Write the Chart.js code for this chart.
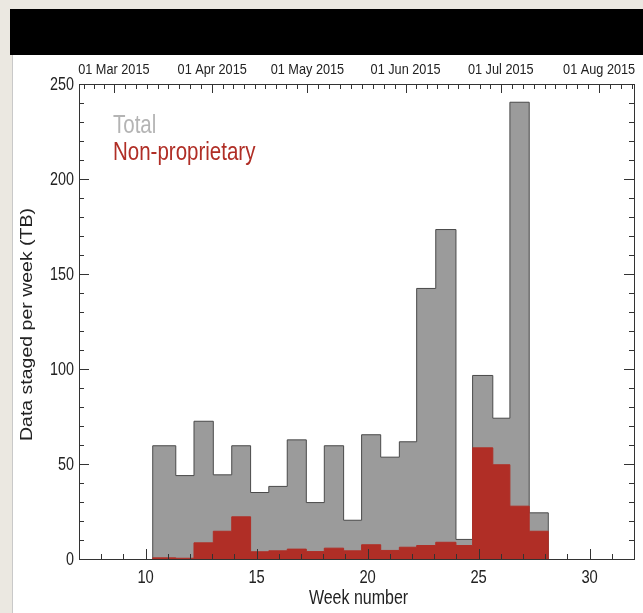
<!DOCTYPE html>
<html>
<head>
<meta charset="utf-8">
<script src="https://cdn.jsdelivr.net/npm/chart.js@4.4.0/dist/chart.umd.min.js"></script>
<style>
  html, body { margin: 0; padding: 0; }
  body { width: 643px; height: 613px; background: #ebe8e1; position: relative; overflow: hidden; }
  #topBar { position: absolute; left: 10px; top: 9px; width: 633px; height: 46px; background: #000; }
  #panel { position: absolute; left: 12px; top: 55px; width: 631px; height: 558px; background: #fff; border-left: 1px solid #c9c9c9; }
  canvas { position: absolute; left: 0; top: 0; }
</style>
</head>
<body>
<div id="topBar"></div>
<div id="panel"></div>
<canvas id="stagedChart" width="643" height="613"></canvas>
<script>
// bin edges in week number, one more than the values
const binEdges = [10.32, 11.36, 12.18, 13.05, 13.88, 14.73, 15.55, 16.38, 17.24, 18.05, 18.92,
                  19.73, 20.59, 21.43, 22.21, 23.07, 23.98, 24.73, 25.64, 26.41, 27.28, 28.14];
const totalTB = [59.6, 43.9, 72.5, 44.3, 59.6, 35.0, 38.2, 62.7, 29.7, 59.6, 20.4,
                 65.4, 53.6, 61.7, 142.4, 173.4, 10.3, 96.6, 74.1, 240.4, 24.3];
const nonPropTB = [0.6, 0.4, 8.5, 14.6, 22.2, 3.8, 4.3, 5.2, 3.9, 5.7, 4.3,
                   7.5, 4.5, 6.2, 7.1, 8.8, 7.1, 58.5, 49.6, 27.8, 14.6];
const weekTicks = [10, 15, 20, 25, 30];
const yTicks = [0, 50, 100, 150, 200, 250];
const monthLabels = ['01 Mar 2015', '01 Apr 2015', '01 May 2015', '01 Jun 2015', '01 Jul 2015', '01 Aug 2015'];
const monthWeeks = [8.57, 13.0, 17.29, 21.71, 26.0, 30.43];
// month starts used only for the small date ticks (Feb .. Sep)
const monthStarts = [4.57, 8.57, 13.0, 17.29, 21.71, 26.0, 30.43, 34.86];

const FONT = "'Liberation Sans', Arial, Helvetica, sans-serif";
const SQUEEZE = 0.82;   // the original plot is squashed sideways
const RED = '#b02e26';
const GREY = '#9b9b9b';
const INK = '#222';

// histogram outline: start at 0, one point per bin, drop back to 0
function stepPoints(values) {
    let pts = [{ x: binEdges[0], y: 0 }];
    values.forEach((v, i) => pts.push({ x: binEdges[i], y: v }));
    pts.push({ x: binEdges[binEdges.length - 1], y: 0 });
    return pts;
}

function narrowText(ctx, text, x, y, size, color, align) {
    ctx.save();
    ctx.translate(x, y);
    ctx.scale(SQUEEZE, 1);
    ctx.font = size + 'px ' + FONT;
    ctx.fillStyle = color;
    ctx.textAlign = align;
    ctx.textBaseline = 'middle';
    ctx.fillText(text, 0, 0);
    ctx.restore();
}

const frameTicks = {
    id: 'frameTicks',
    afterDatasetsDraw(chart) {
        const { ctx, chartArea: a, scales } = chart;
        const xs = scales.x, ys = scales.y;
        ctx.save();
        ctx.strokeStyle = '#333';
        ctx.lineWidth = 1;
        ctx.beginPath();
        for (let v = 0; v <= 250; v += 10) {
            const py = Math.round(ys.getPixelForValue(v)) + 0.5;
            const len = v % 50 === 0 ? 10 : 5;
            ctx.moveTo(a.left, py); ctx.lineTo(a.left + len, py);
            ctx.moveTo(a.right, py); ctx.lineTo(a.right - len, py);
        }
        for (let w = 7; w <= 32; w++) {
            const px = Math.round(xs.getPixelForValue(w)) + 0.5;
            const len = w % 5 === 0 ? 10 : 5;
            ctx.moveTo(px, a.bottom); ctx.lineTo(px, a.bottom - len);
        }
        for (let m = 0; m < monthStarts.length - 1; m++) {
            const step = (monthStarts[m + 1] - monthStarts[m]) / 9;
            for (let k = 0; k < 9; k++) {
                const w = monthStarts[m] + k * step;
                if (w < 7 || w > 32) continue;
                const px = Math.round(xs.getPixelForValue(w)) + 0.5;
                const len = k === 0 ? 9 : 5;
                ctx.moveTo(px, a.top); ctx.lineTo(px, a.top + len);
            }
        }
        ctx.stroke();
        ctx.strokeRect(Math.round(a.left) + 0.5, Math.round(a.top) + 0.5,
                       Math.round(a.right - a.left), Math.round(a.bottom - a.top));
        ctx.restore();

        // tick labels
        yTicks.forEach(v => narrowText(ctx, String(v), a.left - 5, ys.getPixelForValue(v) + 1, 17.5, INK, 'right'));
        weekTicks.forEach(w => narrowText(ctx, String(w), xs.getPixelForValue(w), a.bottom + 19, 18, INK, 'center'));
        monthWeeks.forEach((w, i) => narrowText(ctx, monthLabels[i], xs.getPixelForValue(w), a.top - 14, 15.5, INK, 'center'));

        // axis titles
        narrowText(ctx, 'Week number', (a.left + a.right) / 2 + 2, a.bottom + 40, 19.5, INK, 'center');
        ctx.save();
        ctx.translate(28, (a.top + a.bottom) / 2 + 3);
        ctx.rotate(-Math.PI / 2);
        ctx.scale(1, SQUEEZE);
        ctx.font = '19.5px ' + FONT;
        ctx.fillStyle = INK;
        ctx.textAlign = 'center';
        ctx.textBaseline = 'middle';
        ctx.fillText('Data staged per week (TB)', 0, 0);
        ctx.restore();

        // legend text
        narrowText(ctx, 'Total', a.left + 34, a.top + 42, 25, '#b4b4b4', 'left');
        narrowText(ctx, 'Non-proprietary', a.left + 34, a.top + 69, 25, RED, 'left');
    }
};

let stagedChartCanvas = document.getElementById('stagedChart').getContext('2d');
let stagedChart = new Chart(stagedChartCanvas, {
    type: 'line',
    data: {
        datasets: [{
            label: 'Non-proprietary',
            data: stepPoints(nonPropTB),
            stepped: true,
            fill: 'origin',
            backgroundColor: RED,
            borderColor: RED,
            borderWidth: 1,
            pointRadius: 0
        }, {
            label: 'Total',
            data: stepPoints(totalTB),
            stepped: true,
            fill: 'origin',
            backgroundColor: GREY,
            borderColor: '#4a4a4a',
            borderWidth: 1,
            pointRadius: 0
        }]
    },
    options: {
        responsive: false,
        animation: false,
        layout: { padding: { left: 0, right: 9, top: 0, bottom: 0 } },
        plugins: {
            legend: { display: false },
            tooltip: { enabled: false }
        },
        scales: {
            x: {
                type: 'linear',
                position: 'bottom',
                min: 7,
                max: 32,
                grid: { display: false },
                border: { display: false },
                ticks: { display: false },
                afterBuildTicks: s => { s.ticks = weekTicks.map(v => ({ value: v })); },
                afterFit: s => { s.height = 54; }
            },
            xTop: {
                type: 'linear',
                position: 'top',
                min: 7,
                max: 32,
                grid: { display: false },
                border: { display: false },
                ticks: { display: false },
                afterBuildTicks: s => { s.ticks = monthWeeks.map(v => ({ value: v })); },
                afterFit: s => { s.height = 84; }
            },
            y: {
                min: 0,
                max: 250,
                grid: { display: false },
                border: { display: false },
                ticks: { display: false },
                afterBuildTicks: s => { s.ticks = yTicks.map(v => ({ value: v })); },
                afterFit: s => { s.width = 79; }
            }
        }
    },
    plugins: [frameTicks]
});
</script>
</body>
</html>
